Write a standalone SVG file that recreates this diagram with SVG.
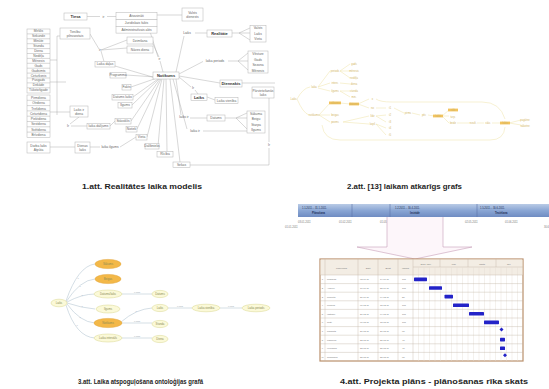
<svg xmlns="http://www.w3.org/2000/svg" width="549" height="389" viewBox="0 0 549 389">
  <defs>
    <style>
      text { font-family: "Liberation Sans", Arial, sans-serif; }
      .b1 { fill: #fff; stroke: #b4b4b4; stroke-width: 0.5; }
      .t1 { font-size: 3.3px; fill: #666; text-anchor: middle; }
      .tb { font-size: 4px; fill: #333; font-weight: bold; text-anchor: middle; }
      .e1 { fill: none; stroke: #a8a8a8; stroke-width: 0.45; }
      .e2 { fill: none; stroke: #efe2a6; stroke-width: 0.5; }
      .t2 { font-size: 2.6px; fill: #d3b665; text-anchor: middle; }
      .o2 { fill: #f2c35e; }
      .e3 { fill: none; stroke: #a9bccb; stroke-width: 0.5; }
      .n3 { fill: #fbf9d8; stroke: #d9d68f; stroke-width: 0.5; }
      .n3o { fill: #f3b848; stroke: #e3a43a; stroke-width: 0.5; }
      .t3 { font-size: 2.8px; fill: #8a8a55; text-anchor: middle; }
      .l3 { font-size: 2.2px; fill: #9aa8b0; text-anchor: middle; }
      .cap { font-size: 6.5px; font-weight: bold; fill: #1e1e1e; }
      .tg { font-size: 2.3px; fill: #777; text-anchor: middle; }
      .ts { font-size: 2.3px; fill: #777; text-anchor: start; }
      .bar { fill: #2323c8; }
    </style>
    <linearGradient id="tl" x1="0" y1="0" x2="0" y2="1">
      <stop offset="0" stop-color="#b9cbe6"/>
      <stop offset="0.5" stop-color="#8aa6d4"/>
      <stop offset="1" stop-color="#6f8cc2"/>
    </linearGradient>
  </defs>
  <rect width="549" height="389" fill="#fff"/>

  <!-- ===== Figure 1: reality time model ===== -->
  <g id="fig1-edges">
    <path class="e1" d="M87,16.5 H100 M107,16.5 H116"/>
    <path class="e1" d="M157,15 H182"/>
    <path class="e1" d="M90,34 L99,49 M101,50 L127,40 M101,50 L127,48 M101,51 L104,61.5"/>
    <path class="e1" d="M50,60 H57 M57,36 V115 M57,36 H60 M50,82 H66"/>
    <path class="e1" d="M50,112 H70 M50,147 H75"/>
    <path class="e1" d="M79,117 L70,124 M71,126 H87 M110,126 L115,121"/>
    <path class="e1" d="M90,147 H100 M120,147 L136,137"/>
    <path class="e1" d="M156,78 L115,66 M156,77 L126,75 M157,78 L131,87 M158,79 L133,97 M159,79 L132,105 M160,79 L131,121 M161,79 L137,129 M162,79 L147,137 M164,79 L158,146 M166,79 L167,151.5 M170,79 L180,162"/>
    <path class="e1" d="M163,72 L160,61 M158,57 L150,31.5 M159,57 L153,44"/>
    <path class="e1" d="M176,72 L184,36 M195,33 H207 M232,33 H250 M239,33 L250,28 M239,33 L250,40"/>
    <path class="e1" d="M179,74 L203,61.5 M228,61 H248 M238,61 L248,53 M238,61 L248,70"/>
    <path class="e1" d="M179,77 L191,87 M195,90 L198,94 M207,97 L215,100 M179,76 L220,83 M242,83 H275"/>
    <path class="e1" d="M176,79 L181,115 M190,118 H207 M225,118 H247 M236,118 L247,113 M236,118 L247,129"/>
    <path class="e1" d="M173,79 L187,129 M203,131 H247"/>
    <path class="e1" d="M190,165 H269 V148 M269,142 V98"/>
  </g>

  <g id="fig1-nodes">
    <g id="n-tiesa"><rect class="b1" x="64" y="13" width="23" height="7"/><text class="tb" x="75.5" y="17.9">Tiesa</text></g>
    <g id="n-akti">
      <rect class="b1" x="116" y="12.7" width="41" height="6.8"/><text class="t1" x="136.5" y="17.2">Atvasināti</text>
      <rect class="b1" x="116" y="19.5" width="41" height="6.8"/><text class="t1" x="136.5" y="24">Juridiskais fakts</text>
      <rect class="b1" x="116" y="26.3" width="41" height="6.8"/><text class="t1" x="136.5" y="30.8">Administratīvais akts</text>
    </g>
    <g id="n-dienests"><rect class="b1" x="182" y="8" width="21" height="13"/><text class="t1" x="192.5" y="13.5">Valsts</text><text class="t1" x="192.5" y="18">dienests</text></g>
    <text class="t1" x="103.5" y="17.5">ir</text>

    <g id="n-vienibas">
      <rect class="b1" x="27" y="29" width="23" height="64"/>
      <g class="t1">
        <text x="38.5" y="32.4">Mirklis</text><text x="38.5" y="37.3">Sekunde</text><text x="38.5" y="42.2">Minūte</text>
        <text x="38.5" y="47.1">Stunda</text><text x="38.5" y="52">Diena</text><text x="38.5" y="56.9">Nedēļa</text>
        <text x="38.5" y="61.8">Mēnesis</text><text x="38.5" y="66.7">Gads</text><text x="38.5" y="71.6">Gadsimts</text>
        <text x="38.5" y="76.5">Ceturksnis</text><text x="38.5" y="81.4">Pusgads</text><text x="38.5" y="86.3">Dekāde</text>
        <text x="38.5" y="91.2">Tūkstošgade</text>
      </g>
      <path class="e1" d="M27,33.9 H50 M27,38.8 H50 M27,43.7 H50 M27,48.6 H50 M27,53.5 H50 M27,58.4 H50 M27,63.3 H50 M27,68.2 H50 M27,73.1 H50 M27,78 H50 M27,82.9 H50 M27,87.8 H50"/>
    </g>
    <g id="n-dienas">
      <rect class="b1" x="27" y="95" width="23" height="42.4"/>
      <g class="t1">
        <text x="38.5" y="98.9">Pirmdiena</text><text x="38.5" y="104.2">Otrdiena</text><text x="38.5" y="109.5">Trešdiena</text>
        <text x="38.5" y="114.8">Ceturtdiena</text><text x="38.5" y="120.1">Piektdiena</text><text x="38.5" y="125.4">Sestdiena</text>
        <text x="38.5" y="130.7">Svētdiena</text><text x="38.5" y="136">Brīvdiena</text>
      </g>
      <path class="e1" d="M27,100.3 H50 M27,105.6 H50 M27,110.9 H50 M27,116.2 H50 M27,121.5 H50 M27,126.8 H50 M27,132.1 H50"/>
    </g>
    <g id="n-darba"><rect class="b1" x="27" y="142" width="23" height="11"/><text class="t1" x="38.5" y="147">Darba laiks</text><text class="t1" x="38.5" y="151">Atpūta</text></g>
    <g id="n-pilnv"><rect class="b1" x="60" y="28" width="30" height="11"/><text class="t1" x="75" y="32.8">Tiesību</text><text class="t1" x="75" y="37">pilnvarotais</text></g>
    <g id="n-dzims">
      <rect class="b1" x="127" y="37" width="26" height="7"/><text class="t1" x="140" y="41.6">Dzimšana</text>
      <rect class="b1" x="127" y="46" width="26" height="7"/><text class="t1" x="140" y="50.6">Nāves diena</text>
    </g>
    <text class="t1" x="100" y="51.2">ir</text>
    <g id="n-dalas"><rect class="b1" x="95" y="61.5" width="20" height="5.5"/><text class="t1" x="105" y="65.3">Laika daļas</text></g>
    <g id="n-progr"><rect class="b1" x="110" y="72.5" width="16" height="5.5"/><text class="t1" x="118" y="76.3">Programma</text></g>
    <g id="n-notikums"><rect class="b1" x="153" y="72" width="26" height="7" stroke="#999"/><text class="tb" x="166" y="76.9">Notikums</text></g>
    <text class="t1" x="159.5" y="60">ir</text>
    <g id="n-fakts"><rect class="b1" x="122" y="84.5" width="9" height="5.5"/><text class="t1" x="126.5" y="88.3">Fakts</text></g>
    <g id="n-datums"><rect class="b1" x="112" y="94.5" width="21" height="5.5"/><text class="t1" x="122.5" y="98.3">Datums laiks</text></g>
    <g id="n-ilgums"><rect class="b1" x="118" y="102.5" width="14" height="5.5"/><text class="t1" x="125" y="106.3">Ilgums</text></g>
    <g id="n-stavoklis"><rect class="b1" x="115" y="118.5" width="16" height="5.5"/><text class="t1" x="123" y="122.3">Stāvoklis</text></g>
    <g id="n-notiek"><rect class="b1" x="126" y="126.5" width="11" height="5.5"/><text class="t1" x="131.5" y="130.3">Notiek</text></g>
    <g id="n-vieta"><rect class="b1" x="136" y="134.5" width="11" height="5.5"/><text class="t1" x="141.5" y="138.3">Vieta</text></g>
    <g id="n-dalib"><rect class="b1" x="145" y="143.5" width="14" height="5.5"/><text class="t1" x="152" y="147.3">Dalībnieks</text></g>
    <g id="n-ricib"><rect class="b1" x="157" y="151.5" width="16" height="5.5"/><text class="t1" x="165" y="155.3">Rīcība</text></g>
    <g id="n-sekas"><rect class="b1" x="173" y="162" width="17" height="5.5"/><text class="t1" x="181.5" y="165.8">Sekas</text></g>
    <g id="n-diena"><rect class="b1" x="70" y="106" width="18" height="11"/><text class="t1" x="79" y="110.8">Laiks ir</text><text class="t1" x="79" y="115">diena</text></g>
    <text class="t1" x="68" y="127.2">Ir</text>
    <g id="n-laikair"><rect class="b1" x="87" y="123.5" width="23" height="5.5"/><text class="t1" x="98.5" y="127.3">laika dalījums</text></g>
    <g id="n-dlaiks"><rect class="b1" x="75" y="142" width="15" height="11"/><text class="t1" x="82.5" y="146.8">Dienas</text><text class="t1" x="82.5" y="151">laiks</text></g>
    <text class="t1" x="110" y="148.2">laika ilgums</text>

    <text class="t1" x="187" y="34.2">Laiks</text>
    <g id="n-realitate"><rect class="b1" x="207" y="30" width="25" height="7" stroke="#999"/><text class="tb" x="219.5" y="34.9">Realitāte</text></g>
    <g id="n-valsts">
      <rect class="b1" x="250" y="25.5" width="16" height="16.5"/>
      <text class="t1" x="258" y="29.4">Valsts</text><text class="t1" x="258" y="34.9">Laiks</text><text class="t1" x="258" y="40.4">Vieta</text>
    </g>
    <text class="t1" x="215" y="62.2">laika periods</text>
    <g id="n-vesture">
      <rect class="b1" x="248" y="51" width="20" height="22"/>
      <text class="t1" x="258" y="55">Vēsture</text><text class="t1" x="258" y="60.5">Gads</text><text class="t1" x="258" y="66">Sezona</text><text class="t1" x="258" y="71.5">Mēnesis</text>
    </g>
    <text class="t1" x="193" y="89.2">Ir</text>
    <g id="n-diennakts"><rect class="b1" x="220" y="80" width="22" height="7" stroke="#999"/><text class="tb" x="231" y="84.9">Diennakts</text></g>
    <g id="n-laiks"><rect class="b1" x="191" y="94" width="16" height="6.5" stroke="#999"/><text class="tb" x="199" y="98.7">Laiks</text></g>
    <g id="n-vieniba"><rect class="b1" x="215" y="97.5" width="23" height="6"/><text class="t1" x="226.5" y="101.6">Laika vienība</text></g>
    <g id="n-interv"><rect class="b1" x="252" y="87" width="22" height="11"/><text class="t1" x="263" y="91.8">Pārvietošanās</text><text class="t1" x="263" y="96">laiks</text></g>
    <text class="t1" x="184" y="118.2">laiks ir</text>
    <g id="n-datums2"><rect class="b1" x="207" y="115" width="18" height="6"/><text class="t1" x="216" y="119.1">Datums</text></g>
    <g id="n-sakuma">
      <rect class="b1" x="247" y="111" width="18" height="22"/>
      <text class="t1" x="256" y="115">Sākuma</text><text class="t1" x="256" y="120.3">Beigu</text><text class="t1" x="256" y="125.6">Starpa</text><text class="t1" x="256" y="130.9">Ilgums</text>
    </g>
    <text class="t1" x="195" y="132.2">laika ir</text>
    <text class="t1" x="269" y="146.2">Ir</text>
  </g>
  <text class="cap" x="82" y="189" textLength="120" lengthAdjust="spacingAndGlyphs">1.att. Realitātes laika modelis</text>

  <!-- ===== Figure 2: time-dependent graph ===== -->
  <g id="fig2-edges">
    <path class="e2" d="M297,99 Q303,88 310,87 M297,99 Q303,113 309,115"/>
    <path class="e2" d="M318,87 L330,71 M318,87 L330,83 M318,88 L330,91 M319,115 L330,103 M319,115 H330 M319,115 L330,122"/>
    <path class="e2" d="M340,71 L350,64 M340,71 H350 M340,71 L350,78 M340,83 L350,84 M340,91 H350 M340,91 L350,97 M340,103 L350,104"/>
    <path class="e2" d="M358,104 L369,99 M358,104 L369,108 M343,122 L369,116 M343,122 L369,124"/>
    <path class="e2" d="M376,108 L386,108 M376,116 L386,115 M376,116 L386,122 M376,124 L386,128 M376,124 L386,135"/>
    <path class="e2" d="M394,108 L404,113 M412,113 L420,115 M428,115 L434,116 M442,116 L449,110 M442,116 H449 M442,116 L449,123"/>
    <path class="e2" d="M457,123 H469 M477,123 H484 M492,123 H501 M509,123 L521,120 M509,123 L521,125"/>
    <path class="e2" d="M376,99 Q380,102 392,102 H482 Q500,102 505,119"/>
    <path class="e2" d="M322,125 Q324,140 340,140 H490 Q504,140 505,127"/>
  </g>
  <g id="fig2-nodes">
    <text class="t2" x="293.5" y="100">Laiks</text>
    <text class="t2" x="314" y="88">laika</text>
    <text class="t2" x="314" y="116">notikums</text>
    <text class="t2" x="335" y="72">periods</text>
    <text class="t2" x="335" y="84">interv.</text>
    <text class="t2" x="335" y="92">ilgums</text>
    <rect class="o2" x="329" y="101.5" width="12" height="2.8"/><text class="t2" x="335" y="104" fill="#a06a10">sākums</text>
    <text class="t2" x="335" y="116">beigas</text>
    <text class="t2" x="335" y="123">posms</text>
    <text class="t2" x="354" y="65">gads</text>
    <text class="t2" x="354" y="72">mēnesis</text>
    <text class="t2" x="354" y="79">nedēļa</text>
    <text class="t2" x="354" y="85">diena</text>
    <text class="t2" x="354" y="92">stunda</text>
    <text class="t2" x="354" y="98">min.</text>
    <rect class="o2" x="349" y="102.6" width="10" height="2.8"/><text class="t2" x="354" y="105" fill="#a06a10">datums</text>
    <text class="t2" x="372.5" y="100">x</text>
    <text class="t2" x="372.5" y="109">no</text>
    <text class="t2" x="372.5" y="117">līdz</text>
    <text class="t2" x="372.5" y="125">kopš</text>
    <text class="t2" x="390" y="109">t1</text>
    <text class="t2" x="390" y="116">t2</text>
    <text class="t2" x="390" y="123">t3</text>
    <text class="t2" x="390" y="129">t4</text>
    <text class="t2" x="390" y="136">t5</text>
    <text class="t2" x="408" y="114">pirms</text>
    <text class="t2" x="424" y="116">pēc</text>
    <rect class="o2" x="433" y="114.6" width="10" height="2.8"/><text class="t2" x="438" y="117" fill="#a06a10">laikā</text>
    <rect class="o2" x="448" y="108.6" width="10" height="2.8"/><text class="t2" x="453" y="111" fill="#a06a10">sāk</text>
    <text class="t2" x="453" y="118">turp.</text>
    <text class="t2" x="453" y="124">beidz</text>
    <text class="t2" x="473" y="124">rezult.</text>
    <text class="t2" x="488" y="124">stāv.</text>
    <rect class="o2" x="500" y="121.6" width="10" height="2.8"/><text class="t2" x="505" y="124" fill="#a06a10">fakts</text>
    <text class="t2" x="525" y="121">pagātne</text>
    <text class="t2" x="525" y="126.5">nākotne</text>
  </g>
  <text class="cap" x="347" y="189" textLength="115" lengthAdjust="spacingAndGlyphs">2.att. [13] laikam atkarīgs grafs</text>

  <!-- ===== Figure 3: time in an ontology graph ===== -->
  <g id="fig3-edges">
    <path class="e3" d="M66,301 Q78,266 95,264 M66,302 Q80,280 95,279 M67,302 Q82,294 95,294 M67,303 Q82,308 95,309 M67,304 Q80,322 95,323 M66,305 Q76,337 95,338"/>
    <path class="e3" d="M121,294 H152 M121,323 H152 M121,338 H152 M121,322 Q136,309 152,308 M168,308 H192 M220,308 H242"/>
    <g class="l3">
      <text x="78" y="279">ir</text><text x="80" y="287">ir</text><text x="82" y="296">ir</text>
      <text x="82" y="307">ir</text><text x="80" y="318">ir</text><text x="77" y="326">ir</text>
      <text x="137" y="293.4">ir laiks</text><text x="137" y="322.4">ir laiks</text><text x="137" y="337.4">ir laiks</text>
      <text x="136" y="312">ir</text><text x="180" y="307.4">ir daļa</text><text x="231" y="307.4">ir daļa</text>
    </g>
  </g>
  <g id="fig3-nodes">
    <g id="o-laiks"><ellipse class="n3" cx="59" cy="303" rx="8" ry="3.8"/><text class="t3" x="59" y="304">Laiks</text></g>
    <g id="o-sak"><ellipse class="n3o" cx="108" cy="264" rx="13" ry="4.6"/><text class="t3" x="108" y="265" fill="#7a5510">Sākums</text></g>
    <g id="o-beig"><ellipse class="n3o" cx="108" cy="279" rx="13" ry="4.6"/><text class="t3" x="108" y="280" fill="#7a5510">Beigas</text></g>
    <g id="o-dl"><ellipse class="n3" cx="108" cy="294" rx="14" ry="4"/><text class="t3" x="108" y="295">Datums/laiks</text></g>
    <g id="o-ilg"><ellipse class="n3" cx="108" cy="309" rx="12" ry="4" stroke="#eeeccc"/><text class="t3" x="108" y="310">Ilgums</text></g>
    <g id="o-not"><ellipse class="n3o" cx="108" cy="323" rx="14" ry="4.6"/><text class="t3" x="108" y="324" fill="#7a5510">Notikums</text></g>
    <g id="o-int"><ellipse class="n3" cx="108" cy="338" rx="14" ry="4"/><text class="t3" x="108" y="339">Laika intervāls</text></g>
    <g id="o-dat"><ellipse class="n3" cx="160" cy="294" rx="8" ry="3.6"/><text class="t3" x="160" y="295">Datums</text></g>
    <g id="o-lai"><ellipse class="n3" cx="160" cy="308" rx="8" ry="3.6"/><text class="t3" x="160" y="309">Laiks</text></g>
    <g id="o-stu"><ellipse class="n3" cx="160" cy="324" rx="8" ry="3.6"/><text class="t3" x="160" y="325">Stunda</text></g>
    <g id="o-die"><ellipse class="n3" cx="160" cy="339" rx="8" ry="3.6"/><text class="t3" x="160" y="340">Diena</text></g>
    <g id="o-vien"><ellipse class="n3" cx="206" cy="308" rx="14" ry="3.8"/><text class="t3" x="206" y="309">Laika vienība</text></g>
    <g id="o-per"><ellipse class="n3" cx="256" cy="308" rx="14" ry="3.8"/><text class="t3" x="256" y="309">Laika periods</text></g>
  </g>
  <text class="cap" x="78" y="384" textLength="125" lengthAdjust="spacingAndGlyphs">3.att. Laika atspoguļošana ontoloģijas grafā</text>

  <!-- ===== Figure 4: project plan in a planning tool ===== -->
  <g id="fig4-timeline">
    <rect x="298" y="204" width="251" height="13" fill="url(#tl)"/>
    <path d="M352,204 V217 M390,204 V217 M477,204 V217" stroke="#5a74a8" stroke-width="0.6"/>
    <g font-size="2.6" fill="#1e2e55">
      <text x="302" y="208.5">1.1.2011. - 31.1.2011.</text><text x="312" y="213.5" font-weight="bold">Plānošana</text>
      <text x="395" y="208.5">1.2.2011. - 30.4.2011.</text><text x="410" y="213.5" font-weight="bold">Izstrāde</text>
      <text x="480" y="208.5">1.5.2011. - 30.6.2011.</text><text x="495" y="213.5" font-weight="bold">Testēšana</text>
    </g>
    <g font-size="2.6" fill="#777">
      <text x="298" y="223">03.01.2011</text><text x="339" y="223">01.02.2011</text><text x="380" y="223">01.03.2011</text>
      <text x="423" y="223">01.04.2011</text><text x="465" y="223">02.05.2011</text><text x="505" y="223">01.06.2011</text>
      <text x="285" y="228">01.01.2011</text><text x="544" y="228">30.6</text>
    </g>
    <path d="M387,217 H443 V247 L472,247 L415,259 L357,247 L387,247 Z" fill="#fdf6fa"/>
    <path d="M387,217 V247 H357 L415,259 M443,217 V247 H472 L415,259" fill="none" stroke="#c7a0b8" stroke-width="0.6"/>
  </g>
  <g id="fig4-table">
    <rect x="320" y="259" width="203" height="102" fill="#fff" stroke="#b98f6c" stroke-width="1.2"/>
    <rect x="320.6" y="259.6" width="201.8" height="15.4" fill="#f3ede4"/>
    <g stroke="#bfb3a3" stroke-width="0.4">
      <path d="M325,259 V361 M358,259 V361 M378,259 V361 M398,259 V361 M413,259 V361"/>
      <path d="M413,267 H523 M440,259 V267 M468,259 V267 M496,259 V267"/>
      <path d="M418.5,267 V361 M424,267 V361 M429.5,267 V361 M435,267 V361 M440.5,267 V361 M446,267 V361 M451.5,267 V361 M457,267 V361 M462.5,267 V361 M468,267 V361 M473.5,267 V361 M479,267 V361 M484.5,267 V361 M490,267 V361 M495.5,267 V361 M501,267 V361 M506.5,267 V361 M512,267 V361 M517.5,267 V361" stroke="#e2dcd2"/>
      <path d="M320,275 H523 M320,283.6 H523 M320,292.2 H523 M320,300.8 H523 M320,309.4 H523 M320,318 H523 M320,326.6 H523 M320,335.2 H523 M320,343.8 H523 M320,352.4 H523"/>
    </g>
    <g class="tg">
      <text x="341.5" y="268.5">Uzdevums</text><text x="368" y="268.5">Sākt</text><text x="388" y="268.5">Beigt</text><text x="405.5" y="268.5">Ilgums</text>
      <text x="426" y="264.5">2011. janv.</text><text x="454" y="264.5">febr.</text><text x="482" y="264.5">marts</text><text x="509" y="264.5">apr.</text>
      <text x="322.5" y="280.3">1</text><text x="322.5" y="288.9">2</text><text x="322.5" y="297.5">3</text><text x="322.5" y="306.1">4</text><text x="322.5" y="314.7">5</text>
      <text x="322.5" y="323.3">6</text><text x="322.5" y="331.9">7</text><text x="322.5" y="340.5">8</text><text x="322.5" y="349.1">9</text>
      <text x="322.5" y="357.7" font-size="1.9">10</text>
    </g>
    <g class="ts">
      <text x="327" y="280.3">Prasības</text><text x="360" y="280.3">03.01.11</text><text x="380" y="280.3">14.01.11</text><text x="402" y="280.3">10d</text>
      <text x="327" y="288.9">Analīze</text><text x="360" y="288.9">17.01.11</text><text x="380" y="288.9">28.01.11</text><text x="402" y="288.9">10d</text>
      <text x="327" y="297.5">Projekts</text><text x="360" y="297.5">31.01.11</text><text x="380" y="297.5">04.02.11</text><text x="402" y="297.5">5d</text>
      <text x="327" y="306.1">Modelis</text><text x="360" y="306.1">07.02.11</text><text x="380" y="306.1">18.02.11</text><text x="402" y="306.1">10d</text>
      <text x="327" y="314.7">Izstrāde</text><text x="360" y="314.7">21.02.11</text><text x="380" y="314.7">04.03.11</text><text x="402" y="314.7">10d</text>
      <text x="327" y="323.3">Testi</text><text x="360" y="323.3">07.03.11</text><text x="380" y="323.3">18.03.11</text><text x="402" y="323.3">10d</text>
      <text x="327" y="331.9">Pārskats</text><text x="360" y="331.9">21.03.11</text><text x="380" y="331.9">21.03.11</text><text x="402" y="331.9">0d</text>
      <text x="327" y="340.5">Labojumi</text><text x="360" y="340.5">22.03.11</text><text x="380" y="340.5">25.03.11</text><text x="402" y="340.5">4d</text>
      <text x="327" y="349.1">Ieviešana</text><text x="360" y="349.1">22.03.11</text><text x="380" y="349.1">25.03.11</text><text x="402" y="349.1">4d</text>
      <text x="327" y="357.7">Nodošana</text><text x="360" y="357.7">28.03.11</text><text x="380" y="357.7">28.03.11</text><text x="402" y="357.7">0d</text>
    </g>
    <g id="gantt-bars">
      <rect class="bar" x="414" y="277.6" width="13" height="3.6" rx="0.6"/>
      <rect class="bar" x="429" y="286.2" width="13" height="3.6" rx="0.6"/>
      <rect class="bar" x="444.5" y="294.8" width="8.5" height="3.6" rx="0.6"/>
      <rect class="bar" x="453" y="303.4" width="16" height="3.6" rx="0.6"/>
      <rect class="bar" x="469" y="312" width="15" height="3.6" rx="0.6"/>
      <rect class="bar" x="484" y="320.6" width="15" height="3.6" rx="0.6"/>
      <path class="bar" d="M501.5,327.4 L503.5,329.4 L501.5,331.4 L499.5,329.4 Z"/>
      <rect class="bar" x="500" y="337.8" width="5" height="3.6" rx="0.6"/>
      <rect class="bar" x="500" y="346.4" width="5" height="3.6" rx="0.6"/>
      <path class="bar" d="M505,353.2 L507,355.2 L505,357.2 L503,355.2 Z"/>
    </g>
  </g>
  <text class="cap" x="340" y="384" textLength="188" lengthAdjust="spacingAndGlyphs">4.att. Projekta plāns - plānošanas rīka skats</text>
</svg>
